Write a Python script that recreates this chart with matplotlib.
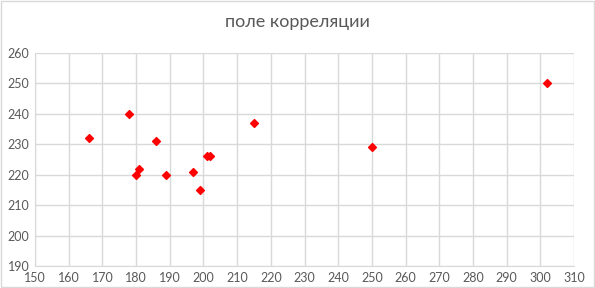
import matplotlib
matplotlib.use("Agg")
import matplotlib.pyplot as plt
from matplotlib.patches import Rectangle

# data
x_vals = [166, 178, 180, 181, 186, 189, 197, 199, 201, 202, 215, 250, 302]
y_vals = [232, 240, 220, 222, 231, 220, 221, 215, 226, 226, 237, 229, 250]
x_ticks = list(range(150, 311, 10))
y_ticks = list(range(190, 261, 10))
title = "поле корреляции"

plt.rcParams['font.family'] = ['Lato', 'DejaVu Sans']
grid_col = "#d9d9d9"
text_col = "#595959"

fig = plt.figure(figsize=(5.95, 2.88), dpi=100)
fig.patches.append(Rectangle((0.001, 0.002), 0.997, 0.996, transform=fig.transFigure,
                             fill=False, edgecolor=grid_col, linewidth=1))
ax = fig.add_axes([35 / 595, 1 - 266 / 288, (574 - 35) / 595, (266 - 53) / 288])

ax.scatter(x_vals, y_vals, marker="D", s=16, color="#ff0000", edgecolors="#ff0000", zorder=3)

ax.set_xlim(150, 310)
ax.set_ylim(190, 260)
ax.set_xticks(x_ticks)
ax.set_yticks(y_ticks)
ax.grid(True, color=grid_col, linewidth=1)
ax.set_axisbelow(True)
for side in ["top", "right"]:
    ax.spines[side].set_visible(False)
for side in ["left", "bottom"]:
    ax.spines[side].set_color(grid_col)
ax.tick_params(length=0, labelsize=9, labelcolor=text_col, pad=4)

fig.text(0.5, 1 - 22 / 288, title, ha="center", va="center", fontsize=13, color=text_col)

fig.savefig("out.png", dpi=100)
